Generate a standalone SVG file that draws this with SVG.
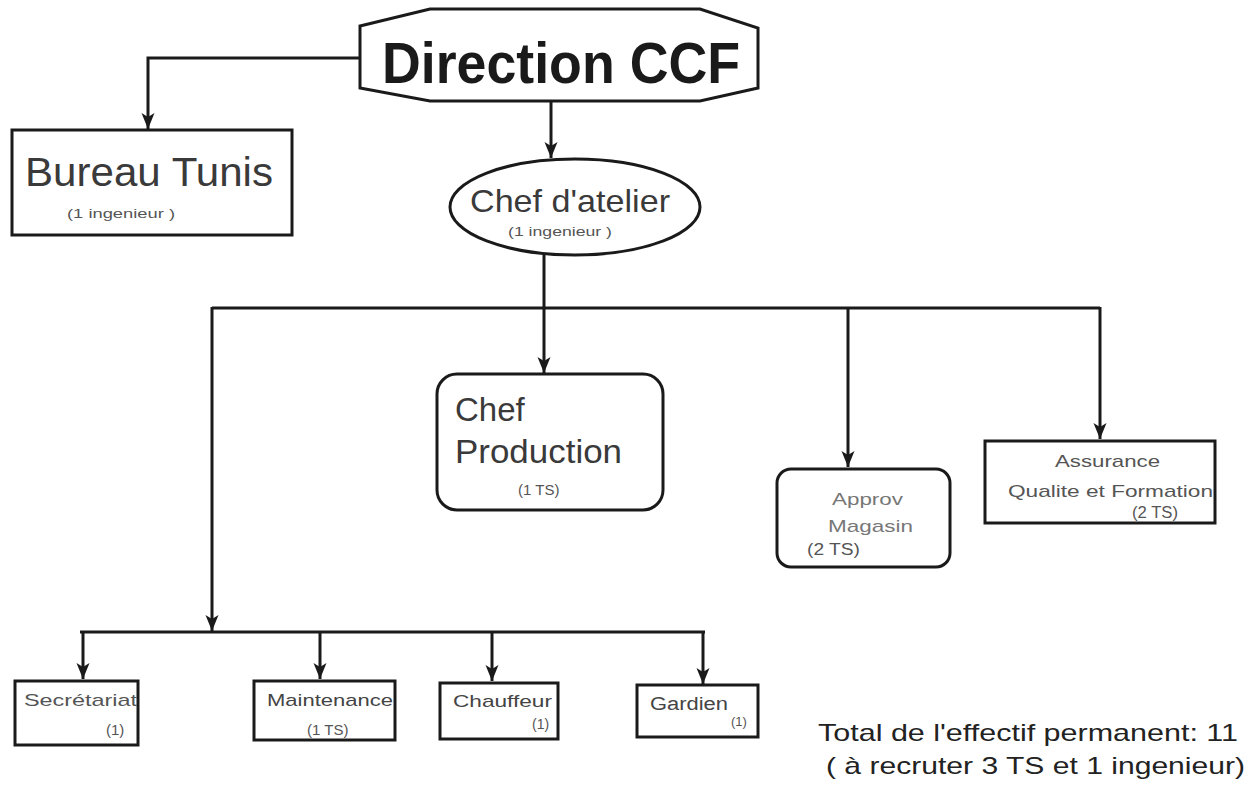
<svg xmlns="http://www.w3.org/2000/svg" width="1251" height="789" viewBox="0 0 1251 789">
<style>
.box{fill:#fff;stroke:#1a1a1a;stroke-width:3}
.ln{fill:none;stroke:#1a1a1a;stroke-width:3}
.t{font-family:"Liberation Sans",Arial,sans-serif;fill:#3a3a3a}
.s{font-family:"Liberation Sans",Arial,sans-serif;fill:#555;font-size:13px}
</style>
<defs>
<marker id="ah" markerUnits="userSpaceOnUse" markerWidth="16" markerHeight="16" viewBox="0 0 16 16" refX="16" refY="8" orient="auto">
<path d="M0,1.5 L16,8 L0,14.5 L4,8 Z" fill="#1a1a1a"/>
</marker>
</defs>
<rect width="1251" height="789" fill="#fff"/>
<g id="connectors">
<polyline class="ln" points="360,58 148,58 148,129" marker-end="url(#ah)"/>
<line class="ln" x1="551" y1="101" x2="551" y2="158" marker-end="url(#ah)"/>
<line class="ln" x1="544" y1="254" x2="544" y2="373" marker-end="url(#ah)"/>
<line class="ln" x1="212" y1="308" x2="1100" y2="308"/>
<line class="ln" x1="848" y1="307" x2="848" y2="467" marker-end="url(#ah)"/>
<line class="ln" x1="1100" y1="307" x2="1100" y2="439" marker-end="url(#ah)"/>
<line class="ln" x1="212" y1="307" x2="212" y2="631" marker-end="url(#ah)"/>
<line class="ln" x1="80" y1="632" x2="705" y2="632"/>
<line class="ln" x1="83" y1="631" x2="83" y2="679" marker-end="url(#ah)"/>
<line class="ln" x1="320" y1="631" x2="320" y2="679" marker-end="url(#ah)"/>
<line class="ln" x1="492" y1="631" x2="492" y2="681" marker-end="url(#ah)"/>
<line class="ln" x1="703" y1="631" x2="703" y2="684" marker-end="url(#ah)"/>
</g>
<g id="direction">
<polygon class="box" points="360,26 430,9 700,9 758,28 758,88 700,101 430,101 360,88"/>
<text class="t" x="382" y="83" font-size="58" font-weight="bold" style="fill:#1a1a1a" textLength="358" lengthAdjust="spacingAndGlyphs">Direction CCF</text>
</g>
<g id="bureau">
<rect class="box" x="12" y="130" width="280" height="105"/>
<text class="t" x="25" y="186" font-size="40" textLength="248" lengthAdjust="spacingAndGlyphs">Bureau Tunis</text>
<text class="s" x="67" y="218" textLength="108" lengthAdjust="spacingAndGlyphs">(1 ingenieur )</text>
</g>
<g id="chef-atelier">
<ellipse class="box" cx="575" cy="207" rx="125" ry="48"/>
<text class="t" x="470" y="212" font-size="32" textLength="200" lengthAdjust="spacingAndGlyphs">Chef d'atelier</text>
<text class="s" x="508" y="236" textLength="104" lengthAdjust="spacingAndGlyphs">(1 ingenieur )</text>
</g>
<g id="chef-production">
<rect class="box" x="437" y="374" width="226" height="136" rx="20"/>
<text class="t" x="455" y="421" font-size="33">Chef</text>
<text class="t" x="455" y="463" font-size="33" textLength="167" lengthAdjust="spacingAndGlyphs">Production</text>
<text class="s" x="518" y="495" style="font-size:15px">(1 TS)</text>
</g>
<g id="approv">
<rect class="box" x="777" y="469" width="173" height="98" rx="14"/>
<text class="t" x="832" y="505" font-size="17" textLength="71" lengthAdjust="spacingAndGlyphs" style="fill:#777">Approv</text>
<text class="t" x="828" y="532" font-size="17" textLength="85" lengthAdjust="spacingAndGlyphs" style="fill:#777">Magasin</text>
<text class="t" x="807" y="555" font-size="16" textLength="53" lengthAdjust="spacingAndGlyphs" style="fill:#555">(2 TS)</text>
</g>
<g id="assurance">
<rect class="box" x="985" y="441" width="230" height="82"/>
<text class="t" x="1055" y="467" font-size="17" textLength="105" lengthAdjust="spacingAndGlyphs" style="fill:#555">Assurance</text>
<text class="t" x="1008" y="497" font-size="17" textLength="205" lengthAdjust="spacingAndGlyphs" style="fill:#555">Qualite et Formation</text>
<text class="t" x="1132" y="518" font-size="16" textLength="46" lengthAdjust="spacingAndGlyphs" style="fill:#555">(2 TS)</text>
</g>
<g id="secretariat">
<rect class="box" x="15" y="681" width="123" height="64"/>
<text class="t" x="24" y="706" font-size="17" textLength="113" lengthAdjust="spacingAndGlyphs" style="fill:#555">Secrétariat</text>
<text class="t" x="106" y="735" font-size="15" style="fill:#555">(1)</text>
</g>
<g id="maintenance">
<rect class="box" x="254" y="681" width="141" height="59"/>
<text class="t" x="267" y="706" font-size="17" textLength="126" lengthAdjust="spacingAndGlyphs" style="fill:#444">Maintenance</text>
<text class="t" x="307" y="735" font-size="15" style="fill:#555">(1 TS)</text>
</g>
<g id="chauffeur">
<rect class="box" x="440" y="683" width="118" height="56"/>
<text class="t" x="453" y="707" font-size="17" textLength="99" lengthAdjust="spacingAndGlyphs" style="fill:#444">Chauffeur</text>
<text class="t" x="532" y="729" font-size="14" style="fill:#555">(1)</text>
</g>
<g id="gardien">
<rect class="box" x="637" y="685" width="121" height="52"/>
<text class="t" x="650" y="710" font-size="18" textLength="78" lengthAdjust="spacingAndGlyphs" style="fill:#444">Gardien</text>
<text class="t" x="731" y="726" font-size="13" style="fill:#555">(1)</text>
</g>
<g id="total">
<text class="t" x="818" y="741" font-size="24" textLength="420" lengthAdjust="spacingAndGlyphs" style="fill:#222">Total de l'effectif permanent: 11</text>
<text class="t" x="826" y="774" font-size="24" textLength="419" lengthAdjust="spacingAndGlyphs" style="fill:#222">( à recruter 3 TS et 1 ingenieur)</text>
</g>
</svg>
